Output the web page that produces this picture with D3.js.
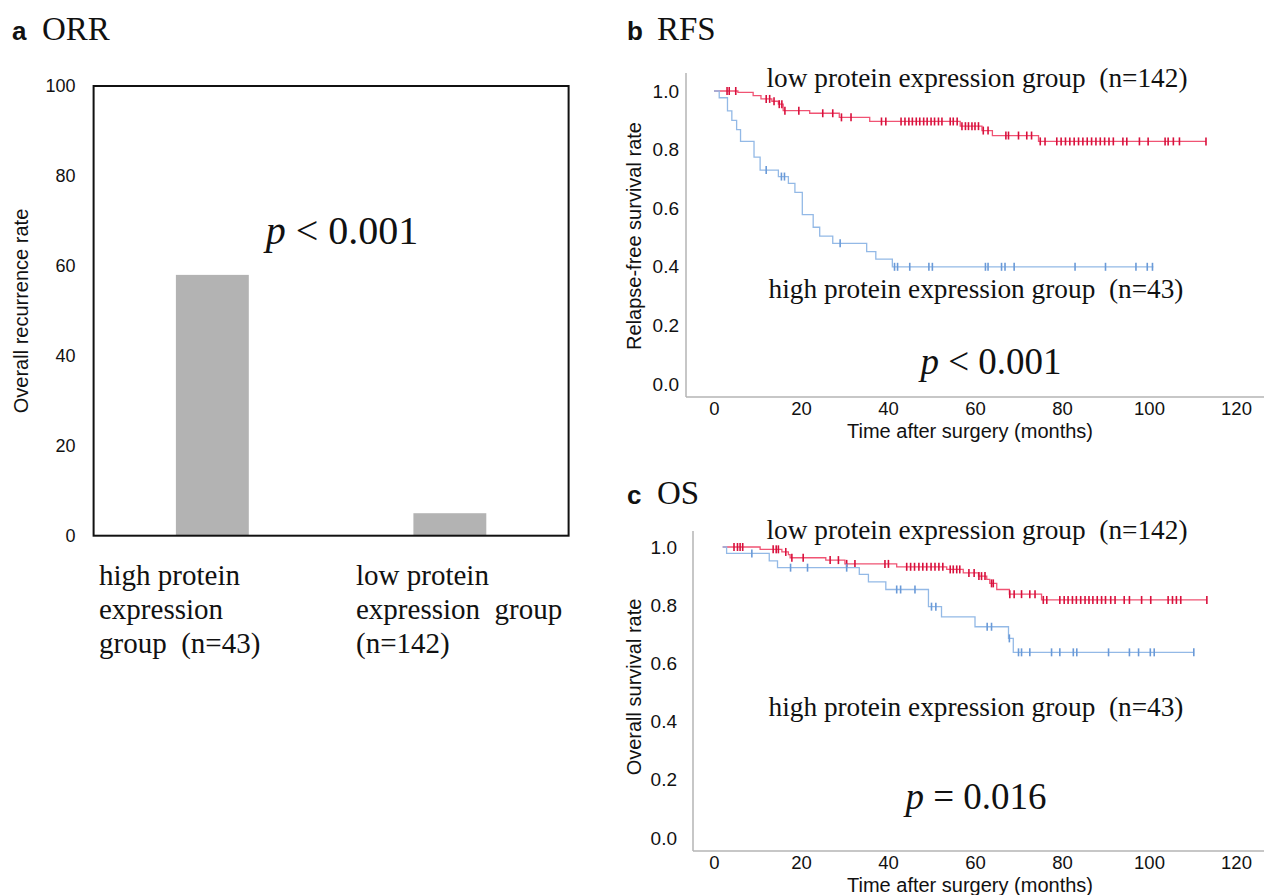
<!DOCTYPE html>
<html>
<script src="https://d3js.org/d3.v7.min.js"></script>
<style>
body {margin:0; background:#fff;}
.serif {font-family:"Liberation Serif","Times New Roman",serif; fill:#111;}
.sans {font-family:"Liberation Sans",Arial,sans-serif; fill:#111;}
</style>
<body>
<svg width=1264 height=895></svg>
<script>
// ---- panel a: overall recurrence rate ----
const barGroups = ["high", "low"];
const barValues = [58, 5];
const barLabels = [["high protein", "expression", "group\u00a0 (n=43)"],
                   ["low protein", "expression\u00a0 group", "(n=142)"]];
const barTicks = [0, 20, 40, 60, 80, 100];

// ---- panel b: RFS, steps are [month, survival] ----
const rfsLowSteps = [[0,1],[5.5,0.995],[9,0.984],[10.8,0.973],[13.3,0.965],[14.8,0.955],[15.9,0.933],
  [22,0.924],[28.8,0.91],[35.8,0.896],[56.6,0.88],[61.6,0.865],[64,0.848],[74.6,0.828]];
const rfsLowEnd = 113.1;
const rfsLowCensor = [3,3.5,5,12,12.8,13.8,15,15.6,16.3,19.5,25,27.3,29.3,31.5,38.5,39.5,
  43,43.9,44.8,45.6,46.5,47.3,48.2,49,49.9,50.7,51.6,52.4,54.3,55,55.9,57,57.8,58.5,59.3,60,60.8,
  61.9,63,67.1,67.7,70,71.9,73,75,76.1,78.8,79.8,80.8,81.8,82.8,83.8,84.8,85.8,86.8,87.8,88.8,
  89.8,90.8,91.8,94,94.9,97.8,99.8,103.7,104.4,105.6,107,113.1];
const rfsHighSteps = [[0,1],[1.2,0.977],[3.1,0.932],[4.1,0.9],[5.2,0.868],[6.1,0.828],[9.2,0.774],
  [10.6,0.73],[14.8,0.708],[17.1,0.685],[18.6,0.654],[20.3,0.578],[22.8,0.535],[24.3,0.505],
  [27.3,0.48],[35.1,0.452],[37.2,0.426],[41,0.4]];
const rfsHighEnd = 101;
const rfsHighCensor = [12,15.5,16.2,29,41.5,42.2,45,49.4,50.2,62.4,63,66.1,66.9,69,83,90,97,99.6,100.8];

// ---- panel c: OS ----
const osLowSteps = [[2,1],[10.6,0.992],[15.6,0.983],[17.1,0.974],[17.5,0.963],[25.7,0.955],[30.1,0.942],
  [42,0.932],[53.5,0.923],[57.3,0.911],[60.8,0.9],[62.7,0.889],[63.4,0.875],[65,0.854],[67.9,0.838],[75.3,0.818]];
const osLowEnd = 113.3;
const osLowCensor = [4.6,5.4,6,6.6,13.6,14.3,14.8,16.5,17.9,20.5,26.7,28.6,30.5,32.4,39.3,40.1,
  44.3,45.2,46.1,47.1,48,48.9,49.9,50.8,51.7,52.6,54.3,55,55.8,56.5,58.6,59.8,60.9,61.5,62.3,63.8,64.2,
  68,69,70.7,72.6,73.8,75.7,76.5,79.5,80.5,81.4,82.4,83.3,84.3,85.3,86.2,87.1,88.1,89.1,90,91.2,92.2,
  94.3,95.5,98.3,100.4,104.4,105.4,106.3,107.3,113.3];
const osHighSteps = [[2,1],[2.9,0.978],[12.7,0.952],[14.6,0.929],[33.4,0.906],[35.5,0.88],[39.5,0.854],
  [49.3,0.795],[52.3,0.76],[60,0.726],[67.7,0.686],[68.8,0.638]];
const osHighEnd = 110.3;
const osHighCensor = [8.7,17.6,21.5,30.5,42,42.9,46.2,50,51,62.8,63.8,67.9,70,70.7,72.6,77.6,79.5,
  82.6,83.4,90.7,95.5,97.6,100.3,101.2,110.3];

const survTicks = [0, 0.2, 0.4, 0.6, 0.8, 1.0];
const timeTicks = [0, 20, 40, 60, 80, 100, 120];

const svg = d3.select("svg");
const RED_LINE = "#f05373", RED_MARK = "#d8103c";
const BLUE_LINE = "#93b9e6", BLUE_MARK = "#6a9ad8";

function pText(g, x, y, size, rest) {
    const t = g.append("text").attr("class", "serif").attr("x", x).attr("y", y)
        .attr("text-anchor", "middle").style("font-size", size + "px");
    t.append("tspan").style("font-style", "italic").text("p");
    t.append("tspan").text(rest);
}

// panel titles
[["a", "ORR", 12, 40], ["b", "RFS", 627, 40], ["c", "OS", 627, 504]].forEach(d => {
    svg.append("text").attr("class", "sans").attr("x", d[2]).attr("y", d[3])
        .style("font-size", "26px").style("font-weight", "bold").text(d[0]);
    svg.append("text").attr("class", "serif").attr("x", d[2] + 30).attr("y", d[3])
        .style("font-size", "33px").text(d[1]);
});

// ===== panel a =====
const ax = d3.scaleBand().domain(barGroups).range([93.6, 568.6]).paddingInner(0.693).paddingOuter(0.3465);
const ay = d3.scaleLinear().domain([0, 100]).range([535.7, 86]);
const ga = svg.append("g");

ga.selectAll("rect.bar").data(barValues).enter().append("rect").attr("class", "bar")
    .attr("x", (d, i) => ax(barGroups[i]))
    .attr("width", ax.bandwidth())
    .attr("y", d => ay(d))
    .attr("height", d => ay(0) - ay(d))
    .attr("fill", "#b3b3b3");

ga.append("rect").attr("x", ax.range()[0]).attr("y", ay(100))
    .attr("width", ax.range()[1] - ax.range()[0]).attr("height", ay(0) - ay(100))
    .attr("fill", "none").attr("stroke", "#111").attr("stroke-width", 2);

ga.append("g").attr("transform", `translate(${ax.range()[0]},0)`)
    .call(d3.axisLeft(ay).tickValues(barTicks).tickSize(0).tickPadding(18))
    .call(g => g.select(".domain").remove())
    .selectAll("text").attr("class", "sans").style("font-size", "18px").attr("fill", "#222");

ga.append("text").attr("class", "sans").attr("transform", "translate(28,311) rotate(-90)")
    .attr("text-anchor", "middle").style("font-size", "20px").text("Overall recurrence rate");

const barLabelX = [99, 356];
barLabels.forEach((lines, i) => {
    lines.forEach((s, j) => {
        ga.append("text").attr("class", "serif").attr("x", barLabelX[i]).attr("y", 585 + j * 34)
            .style("font-size", "29px").text(s);
    });
});
pText(ga, 342, 244, 40, "\u00a0<\u00a00.001");

// ===== KM panels =====
function kmPanel(o) {
    const g = svg.append("g");
    const x = d3.scaleLinear().domain([0, 120]).range([714, 1236]);
    const y = d3.scaleLinear().domain([0, 1]).range([o.y0, o.y1]);

    // axis lines
    g.append("line").attr("x1", o.axisX).attr("x2", o.axisX).attr("y1", o.axisTop).attr("y2", o.axisBottom)
        .attr("stroke", "#b5b5b5").attr("stroke-width", 1.5);
    g.append("line").attr("x1", o.axisX).attr("x2", 1264).attr("y1", o.axisBottom).attr("y2", o.axisBottom)
        .attr("stroke", "#b5b5b5").attr("stroke-width", 1.5);

    g.append("g").attr("transform", `translate(${o.axisX},0)`)
        .call(d3.axisLeft(y).tickValues(survTicks).tickSize(0).tickPadding(o.yPad).tickFormat(d3.format(".1f")))
        .call(a => a.select(".domain").remove())
        .selectAll("text").attr("class", "sans").style("font-size", "19px").attr("fill", "#222");
    g.append("g").attr("transform", `translate(0,${o.axisBottom})`)
        .call(d3.axisBottom(x).tickValues(timeTicks).tickSize(0).tickPadding(5))
        .call(a => a.select(".domain").remove())
        .selectAll("text").attr("class", "sans").style("font-size", "18.5px").attr("fill", "#222");

    g.append("text").attr("class", "sans").attr("x", 970).attr("y", o.axisBottom + 41)
        .attr("text-anchor", "middle").style("font-size", "20px").text("Time after surgery (months)");
    g.append("text").attr("class", "sans").attr("transform", `translate(641,${o.titleY}) rotate(-90)`)
        .attr("text-anchor", "middle").style("font-size", "20px").text(o.yTitle);

    const line = d3.line().x(d => x(d[0])).y(d => y(d[1])).curve(d3.curveStepAfter);
    o.series.forEach(s => {
        const pts = s.steps.concat([[s.end, s.steps[s.steps.length - 1][1]]]);
        g.append("path").datum(pts).attr("d", line).attr("fill", "none")
            .attr("stroke", s.line).attr("stroke-width", 1.3);
        const at = t => { let v = s.steps[0][1]; s.steps.forEach(p => { if (p[0] <= t) v = p[1]; }); return v; };
        g.selectAll(null).data(s.censor).enter().append("line")
            .attr("x1", d => x(d)).attr("x2", d => x(d))
            .attr("y1", d => y(at(d)) - 4).attr("y2", d => y(at(d)) + 4)
            .attr("stroke", s.mark).attr("stroke-width", 1.6);
    });

    g.append("text").attr("class", "serif").attr("x", 977).attr("y", o.lowY).attr("text-anchor", "middle")
        .style("font-size", "27.3px").text("low protein expression group\u00a0 (n=142)");
    g.append("text").attr("class", "serif").attr("x", 976).attr("y", o.highY).attr("text-anchor", "middle")
        .style("font-size", "27.3px").text("high protein expression group\u00a0 (n=43)");
    pText(g, o.pX, o.pY, 37, o.pText);
}

kmPanel({
    y0: 384, y1: 91, axisX: 686, axisTop: 73, axisBottom: 397, yPad: 7, titleY: 236,
    yTitle: "Relapse-free survival rate", lowY: 87, highY: 298, pX: 991, pY: 374, pText: "\u00a0<\u00a00.001",
    series: [
        {steps: rfsLowSteps, end: rfsLowEnd, censor: rfsLowCensor, line: RED_LINE, mark: RED_MARK},
        {steps: rfsHighSteps, end: rfsHighEnd, censor: rfsHighCensor, line: BLUE_LINE, mark: BLUE_MARK}
    ]
});

kmPanel({
    y0: 838, y1: 547, axisX: 693, axisTop: 531, axisBottom: 851, yPad: 16, titleY: 687,
    yTitle: "Overall survival rate", lowY: 539, highY: 716, pX: 976, pY: 809, pText: "\u00a0=\u00a00.016",
    series: [
        {steps: osLowSteps, end: osLowEnd, censor: osLowCensor, line: RED_LINE, mark: RED_MARK},
        {steps: osHighSteps, end: osHighEnd, censor: osHighCensor, line: BLUE_LINE, mark: BLUE_MARK}
    ]
});
</script>
</body>
</html>
